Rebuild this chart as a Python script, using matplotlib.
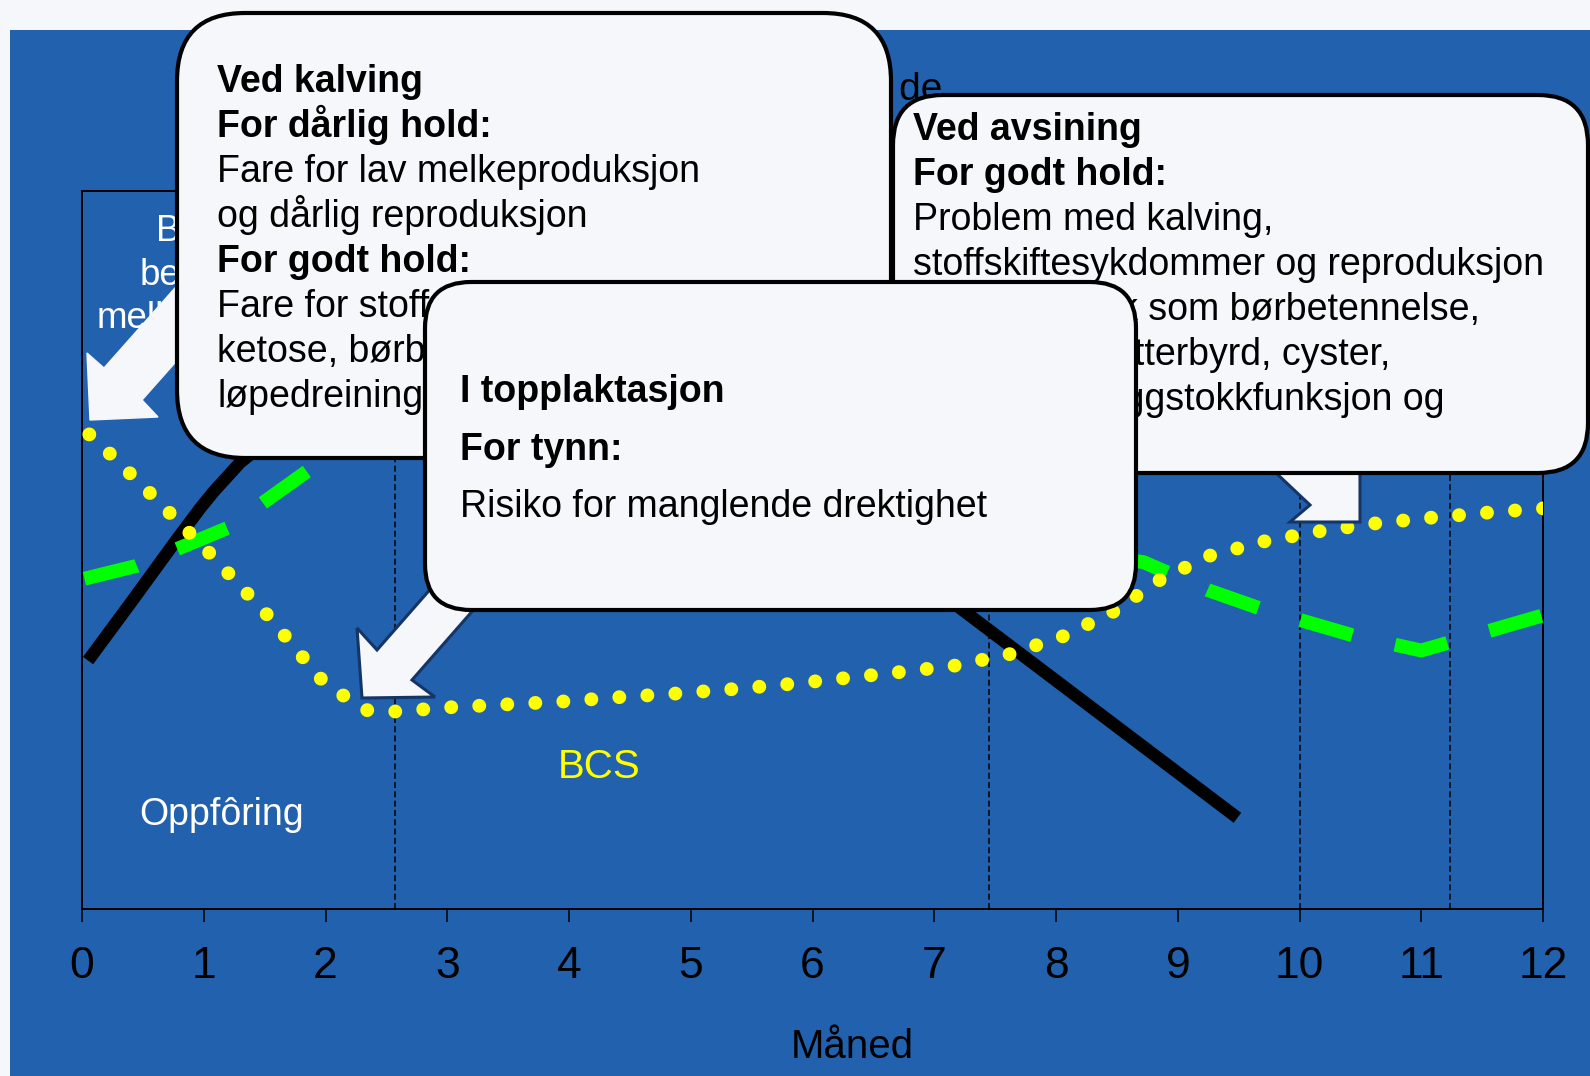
import matplotlib
matplotlib.use('Agg')
import matplotlib.pyplot as plt
from matplotlib.patches import Rectangle, FancyBboxPatch, Polygon

plt.rcParams['font.family'] = ['Liberation Sans', 'DejaVu Sans']
plt.rcParams['lines.scale_dashes'] = False

# curves: month after calving vs relative level (0-100)
milk_month = [0.05, 0.42, 0.78, 0.97, 1.08, 1.30, 1.7, 2.2, 3.0, 4.0, 5.0, 6.0, 7.26, 9.49]
milk = [34.6, 43.1, 51.5, 55.8, 58.1, 62.2, 67.6, 71.5, 75, 73, 68, 57.5, 41.3, 12.7]

feed_month = [0.02, 0.45, 1.20, 1.86, 2.3, 8.72, 9.25, 9.67, 10.44, 11.0, 12.0]
feed = [46.0, 47.8, 53.1, 61.1, 65.2, 48.3, 44.4, 41.9, 38.1, 36.0, 40.9]

bcs_month = [0.06, 0.23, 0.56, 1.04, 1.52, 1.96, 2.14, 2.34, 2.57, 3.03, 3.49, 3.95, 4.41,
             4.87, 5.33, 5.79, 6.02, 6.72, 7.17, 7.62, 8.06, 8.47, 8.85, 9.26, 9.71, 10.16,
             10.62, 11.08, 11.54, 12.0]
bcs = [66.1, 63.4, 57.9, 49.7, 41.0, 32.1, 29.8, 27.7, 27.5, 28.1, 28.5, 28.9, 29.5,
       30.0, 30.6, 31.3, 31.7, 33.0, 33.9, 35.5, 38.0, 41.4, 45.8, 49.2, 51.2, 52.6,
       53.7, 54.5, 55.2, 55.8]

phase_lines = [2.57, 7.45, 10.0, 11.24]  # dashed period borders
months = list(range(13))

BLUE = '#2161AE'
LIGHT = '#F5F7FA'
NAVY = '#143566'

W, H = 1590, 1076
fig = plt.figure(figsize=(W / 100, H / 100), dpi=100, facecolor=LIGHT)

# blue slide background
bg = fig.add_axes([0, 0, 1, 1], zorder=0)
bg.set_xlim(0, W)
bg.set_ylim(H, 0)
bg.axis('off')
bg.add_patch(Rectangle((10, 30), W - 10, H - 30, facecolor=BLUE, edgecolor='none'))

# the chart itself
ax = fig.add_axes([82 / W, 1 - 909 / H, (1543 - 82) / W, (909 - 191) / H], zorder=1)
ax.patch.set_visible(False)
ax.set_xlim(0, 12)
ax.set_ylim(0, 100)
for m in phase_lines:
    ax.axvline(m, color='black', lw=1.1, dashes=(4.3, 2.4), zorder=1)
ax.plot(milk_month, milk, color='black', lw=9, solid_capstyle='butt', solid_joinstyle='round', zorder=2)
ax.plot(feed_month, feed, color='#00FF00', lw=10, dashes=(38.9, 31.5), dash_capstyle='butt', zorder=3)
ax.plot(bcs_month, bcs, color='#FFFF00', lw=10, dashes=(0.01, 20.2), dash_capstyle='round', zorder=4)
for s in ax.spines.values():
    s.set_color('black')
    s.set_linewidth(1.4)
ax.set_xticks(months)
ax.set_yticks([])
ax.tick_params(axis='x', direction='out', length=9.4, width=1.1, pad=17, labelsize=32, colors='black')
ax.set_xlabel('Måned', fontsize=29, va='baseline')
ax.xaxis.set_label_coords(0.527, -0.207)

# overlay in pixel coordinates for labels, arrows and callouts
ov = fig.add_axes([0, 0, 1, 1], zorder=2)
ov.set_xlim(0, W)
ov.set_ylim(H, 0)
ov.axis('off')

ov.text(942, 100, 'Hold og fôring i de', fontsize=28, ha='right', va='baseline', zorder=1)
ov.text(156, 241, 'Bra', fontsize=26.5, color='white', va='baseline', zorder=1)
ov.text(140, 285, 'best', fontsize=26.5, color='white', va='baseline', zorder=1)
ov.text(97, 328, 'melke', fontsize=26.5, color='white', va='baseline', zorder=1)
ov.text(139, 825, 'Oppfôring', fontsize=27, color='white', va='baseline', zorder=1)
ov.text(558, 778, 'BCS', fontsize=29, color='#FFFF00', va='baseline', zorder=1)

# block arrows
ov.add_patch(Polygon([(90, 420), (87, 353), (104, 368), (237, 218), (275, 250), (142, 400), (158, 417)],
                     closed=True, fc=LIGHT, ec=LIGHT, lw=1, zorder=2))
ov.add_patch(Polygon([(362, 698), (357, 628), (377, 650), (476, 537), (511, 567), (412, 680), (435, 697)],
                     closed=True, fc=LIGHT, ec=NAVY, lw=2.2, zorder=2))
ov.add_patch(Polygon([(1258, 456), (1310, 505), (1290, 522), (1360, 522), (1360, 456)],
                     closed=True, fc=LIGHT, ec=NAVY, lw=2.2, zorder=2))


def callout(x0, y0, x1, y1, r, z):
    ov.add_patch(FancyBboxPatch((x0, y0), x1 - x0, y1 - y0,
                                boxstyle='round,pad=0,rounding_size=%d' % r,
                                fc=LIGHT, ec='black', lw=3, zorder=z))


def write(x, y0, dy, items, z):
    for i, (s, bold) in enumerate(items):
        ov.text(x, y0 + i * dy, s, fontsize=27, fontweight='bold' if bold else 'normal',
                ha='left', va='baseline', color='black', zorder=z)


callout(177, 13, 891, 458, 68, 3)
write(217, 92, 45, [('Ved kalving', True),
                    ('For dårlig hold:', True),
                    ('Fare for lav melkeproduksjon', False),
                    ('og dårlig reproduksjon', False),
                    ('For godt hold:', True),
                    ('Fare for stoffskiftesjukdommer som', False),
                    ('ketose, børbetennelse og', False),
                    ('løpedreining', False)], 3.1)

callout(893, 95, 1588, 473, 50, 4)
write(913, 140, 45, [('Ved avsining', True),
                     ('For godt hold:', True),
                     ('Problem med kalving,', False),
                     ('stoffskiftesykdommer og reproduksjon', False),
                     ('(problematikk som børbetennelse,', False),
                     ('tilbakeholdt etterbyrd, cyster,', False),
                     ('og svekket eggstokkfunksjon og', False)], 4.1)

callout(425, 282, 1136, 610, 46, 5)
write(460, 402, 57.5, [('I topplaktasjon', True),
                       ('For tynn:', True),
                       ('Risiko for manglende drektighet', False)], 5.1)

fig.savefig('out.png', dpi=100, facecolor=LIGHT)
